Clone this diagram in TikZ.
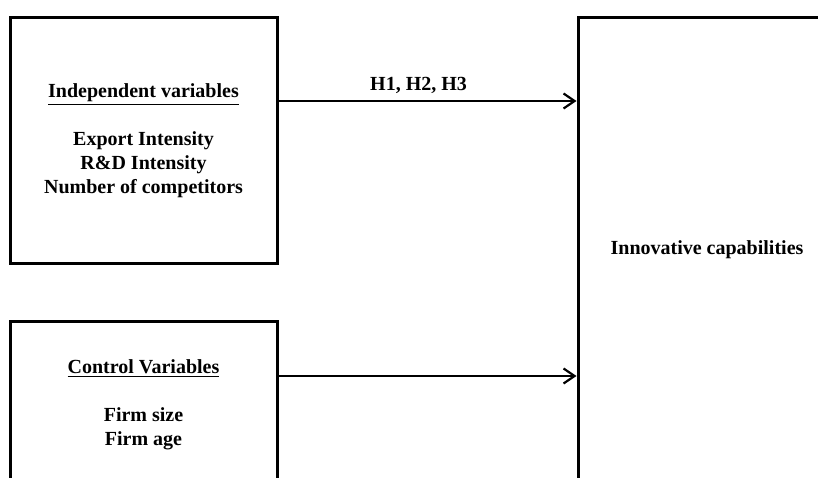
\documentclass[tikz,border=0pt]{standalone}
\usepackage{fontspec}
\setmainfont{Liberation Serif}
\usetikzlibrary{arrows.meta,positioning}

\begin{document}
\begin{tikzpicture}[
                box/.style={draw, line width=1.5pt, align=center, minimum width=133.5pt, font=\bfseries\fontsize{10}{12}\selectfont},
                arrow/.style={-{Straight Barb[length=5.5pt,width=7.5pt]}, line width=1.1pt},
                node distance=27.5pt
            ]

            \useasboundingbox (0,0) rectangle (409pt,238.5pt);
            \clip (0,0) rectangle (409pt,238.5pt);

            \node[box, minimum height=122.5pt] (indep) at (71.75pt,168.25pt) {\underline{Independent variables}\\[12pt]Export Intensity\\R\&D Intensity\\Number of competitors};
            \node[box, minimum height=84pt, below=of indep] (control) {\underline{Control Variables}\\[12pt]Firm size\\Firm age};
            \node[box, minimum width=129pt, minimum height=232pt, right=149pt of indep.north east, anchor=north west] (innov) {Innovative capabilities};

            \draw[arrow] ([yshift=19.75pt]indep.east) -- node[above, pos=0.47, font=\bfseries\fontsize{10}{12}\selectfont] {H1, H2, H3} ([yshift=19.75pt]indep.east -| innov.west);
            \draw[arrow] ([yshift=14.5pt]control.east) -- ([yshift=14.5pt]control.east -| innov.west);

        \end{tikzpicture}
\end{document}
